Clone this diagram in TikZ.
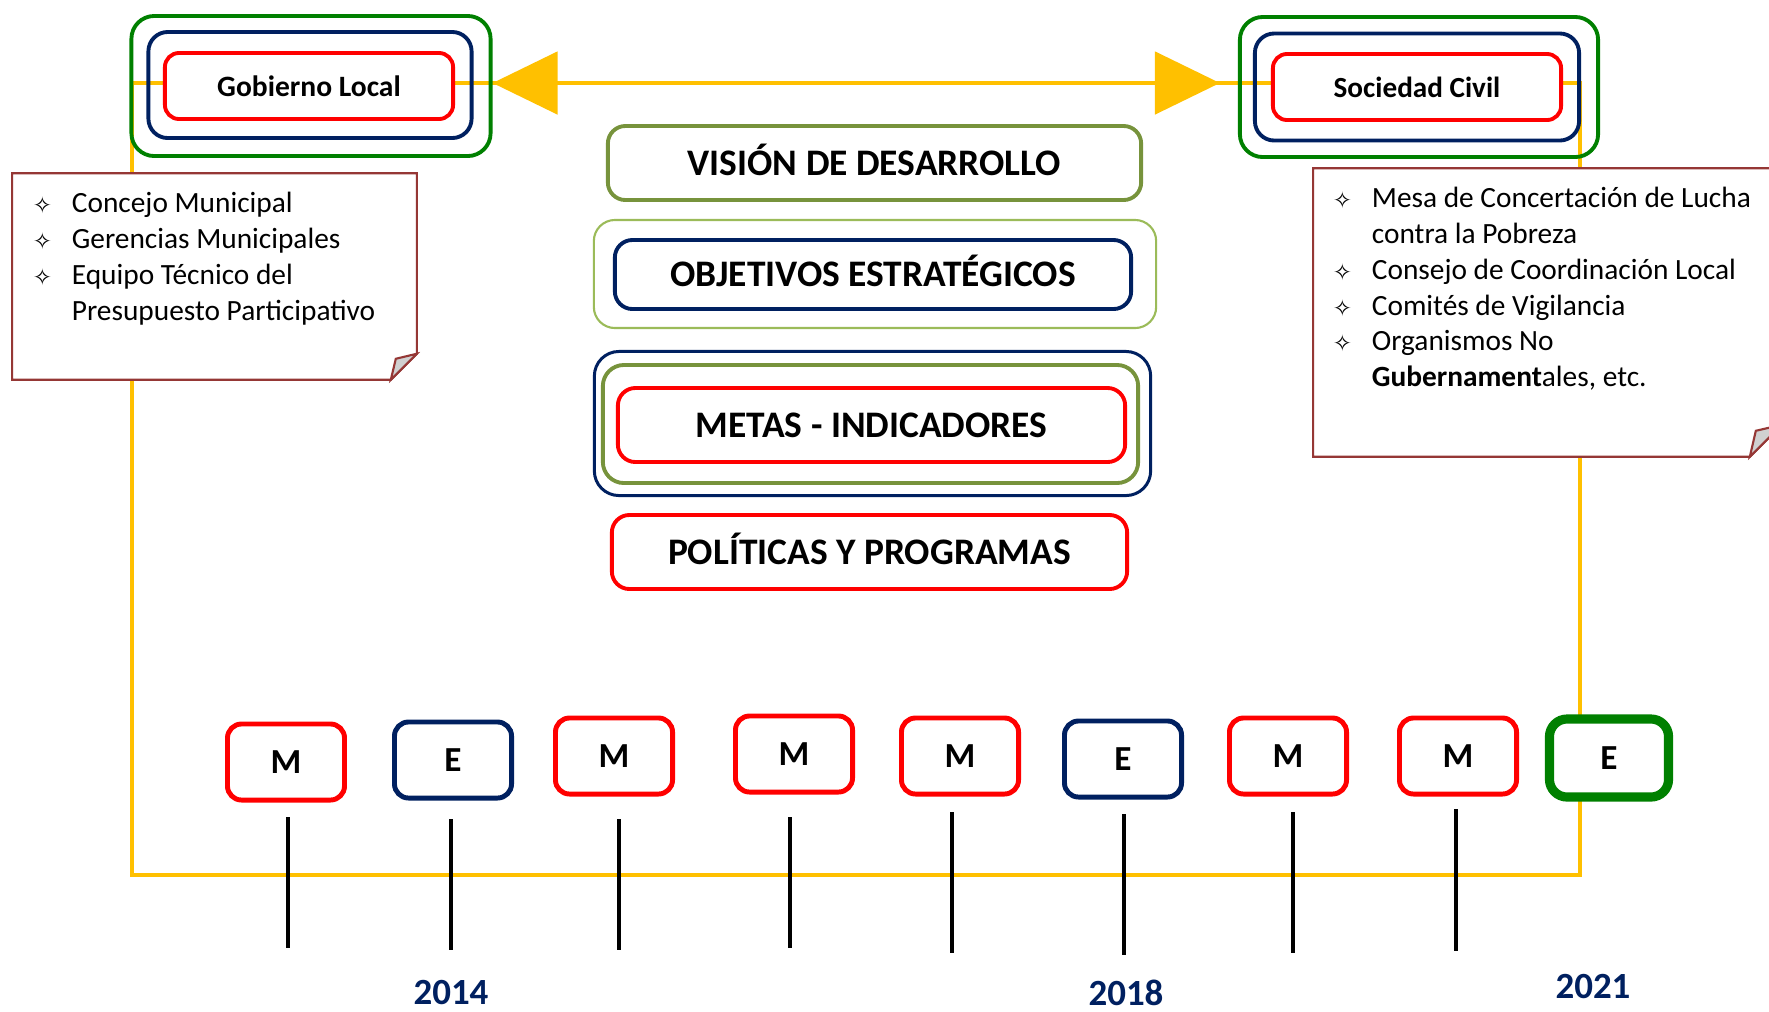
\documentclass[tikz,border=0pt]{standalone}
\usepackage{fontspec}
\setmainfont{Carlito}
\newfontfamily\simbolo{DejaVu Sans}
\usetikzlibrary{arrows.meta,backgrounds}

\definecolor{amarillo}{HTML}{FFC000}
\definecolor{azul}{HTML}{002060}
\definecolor{rojo}{HTML}{FF0000}
\definecolor{verde}{HTML}{008000}
\definecolor{oliva}{HTML}{77933C}
\definecolor{olivaclaro}{HTML}{9BBB59}
\definecolor{borde}{HTML}{953735}
\definecolor{pliegue}{HTML}{D0D0D0}

\newcommand{\vineta}{\makebox[0.39cm][l]{\raisebox{-0.3pt}{\simbolo\fontsize{6.5}{6.5}\selectfont\char"2727}}}

\begin{document}
\begin{tikzpicture}[x=0.01cm,y=-0.01cm,
    marco/.style={draw=#1,line width=1.1pt,inner sep=0pt,rounded corners=5pt},
    titulo/.style={text height=0.245cm,text depth=0cm,font=\bfseries\fontsize{10.65}{13}\selectfont},
    hito/.style={draw=#1,line width=1.4pt,fill=white,inner sep=0pt,rounded corners=4pt,
      minimum width=1.17cm,minimum height=0.76cm,font=\bfseries\fontsize{10}{12}\selectfont},
    anio/.style={text=azul,inner sep=0pt,font=\bfseries\fontsize{10.5}{12}\selectfont},
    nota/.style={fill=white,inner sep=0pt},
    borde nota/.style={draw=borde,line width=0.6pt},
    lista/.style={align=left,inner sep=0pt,font=\fontsize{8.35}{10.15}\selectfont},
    linea/.style={draw=amarillo,line width=1.4pt},
    marca/.style={line width=1.3pt}]
\clip (0,0) rectangle (1769,1011);

% actores
\node[marco=verde,minimum width=3.59cm,minimum height=1.40cm,rounded corners=6.5pt] (gl3) at (311,86) {};
\node[marco=azul,minimum width=3.23cm,minimum height=1.06cm,rounded corners=5.5pt] (gl2) at (310,85) {};
\node[marco=rojo,fill=white,minimum width=2.88cm,minimum height=0.66cm,rounded corners=4pt,
  font=\bfseries\fontsize{8.4}{10}\selectfont] (gl1) at (309,86) {Gobierno Local};

\node[marco=verde,minimum width=3.58cm,minimum height=1.40cm,rounded corners=6.5pt] (sc3) at (1419,87) {};
\node[marco=azul,minimum width=3.24cm,minimum height=1.07cm,rounded corners=5.5pt] (sc2) at (1417,87) {};
\node[marco=rojo,fill=white,minimum width=2.88cm,minimum height=0.66cm,rounded corners=4pt,
  font=\bfseries\fontsize{8.3}{10}\selectfont] (sc1) at (1417,87) {Sociedad Civil};

% notas
\node[nota,minimum width=4.03cm,minimum height=2.05cm] (n1) at (214.5,276.5) {};
\draw[borde nota] (n1.north west) -- (n1.north east) -- ([yshift=0.26cm]n1.south east)
  -- ([xshift=-0.26cm]n1.south east) -- (n1.south west) -- cycle;
\filldraw[borde nota,fill=pliegue] ([xshift=-0.26cm]n1.south east) -- ([yshift=0.26cm]n1.south east)
  -- ([xshift=-0.21cm,yshift=0.21cm]n1.south east) -- cycle;
\node[lista,anchor=north west] (n1t) at ([shift={(20,14)}]n1.north west)
  {\strut\vineta Concejo Municipal\\
   \vineta Gerencias Municipales\\
   \vineta Equipo Técnico del\\
   \hspace*{0.39cm}Presupuesto Participativo};

\node[nota,minimum width=4.67cm,minimum height=2.87cm] (n2) at (1547.5,312.5) {};
\draw[borde nota] (n2.north west) -- (n2.north east) -- ([yshift=0.32cm]n2.south east)
  -- ([xshift=-0.32cm]n2.south east) -- (n2.south west) -- cycle;
\filldraw[borde nota,fill=pliegue] ([xshift=-0.32cm]n2.south east) -- ([yshift=0.32cm]n2.south east)
  -- ([xshift=-0.26cm,yshift=0.26cm]n2.south east) -- cycle;
\node[lista,anchor=north west] (n2t) at ([shift={(19,14)}]n2.north west)
  {\strut\vineta Mesa de Concertación de Lucha\\
   \hspace*{0.39cm}contra la Pobreza\\
   \vineta Consejo de Coordinación Local\\
   \vineta Comités de Vigilancia\\
   \vineta Organismos No\\
   \hspace*{0.39cm}\textbf{Gubernament}ales, etc.};

% niveles del plan
\node[marco=oliva,minimum width=5.33cm,minimum height=0.74cm,titulo] (vis) at (874.5,163) {VISIÓN DE DESARROLLO};

\node[marco=olivaclaro,line width=0.6pt,minimum width=5.62cm,minimum height=1.08cm,rounded corners=6pt] (obj2) at (875,274) {};
\node[marco=azul,minimum width=5.16cm,minimum height=0.69cm,titulo] (obj1) at (873,274.5) {OBJETIVOS ESTRATÉGICOS};

\node[marco=azul,line width=0.85pt,minimum width=5.56cm,minimum height=1.44cm,rounded corners=7pt] (met3) at (872.5,423.5) {};
\node[marco=oliva,minimum width=5.35cm,minimum height=1.18cm,rounded corners=6pt] (met2) at (870.5,424) {};
\node[marco=rojo,minimum width=5.07cm,minimum height=0.74cm,titulo] (met1) at (871.5,425) {METAS - INDICADORES};

\node[marco=rojo,minimum width=5.15cm,minimum height=0.74cm,titulo] (pol) at (869.5,552) {POLÍTICAS Y PROGRAMAS};

% linea de tiempo
\node[hito=rojo] (t1) at (286,762) {M};
\node[hito=azul] (t2) at (453,760) {E};
\node[hito=rojo] (t3) at (614,756) {M};
\node[hito=rojo] (t4) at (794,754) {M};
\node[hito=rojo] (t5) at (960,756) {M};
\node[hito=azul] (t6) at (1123,759) {E};
\node[hito=rojo] (t7) at (1288,756) {M};
\node[hito=rojo] (t8) at (1458,756) {M};
\node[hito=verde,line width=2.6pt,minimum width=1.19cm,minimum height=0.78cm,rounded corners=5pt] (t9) at (1609,758) {E};

\foreach \x/\ya/\yb in {288/817/948,451/819/950,619/819/950,790/817/948,952/812/953,1124/814/955,1293/812/953,1456/809/951}
  \draw[marca] (\x,\ya) -- (\x,\yb);

\node[anio] (a2014) at (451,992) {2014};
\node[anio] (a2018) at (1126,993) {2018};
\node[anio] (a2021) at (1593,986) {2021};

% marco amarillo
\coordinate (esq1) at (132,83);
\coordinate (esq2) at (132,875);
\coordinate (esq3) at (1580,875);
\coordinate (esq4) at (1580,83);
\begin{scope}[on background layer]
\draw[linea] (gl1.east |- esq1) -- (sc1.west |- esq1);
\draw[linea] (gl1.west |- esq1) -- (esq1) -- (esq2) -- (esq3) -- (esq4) -- (sc1.east |- esq4);
\draw[linea,{Triangle[length=0.65cm,width=0.62cm]}-{Triangle[length=0.65cm,width=0.62cm]},shorten >=0.18cm] (gl3.east |- esq1) -- (sc3.west |- esq1);
\end{scope}
\end{tikzpicture}
\end{document}
